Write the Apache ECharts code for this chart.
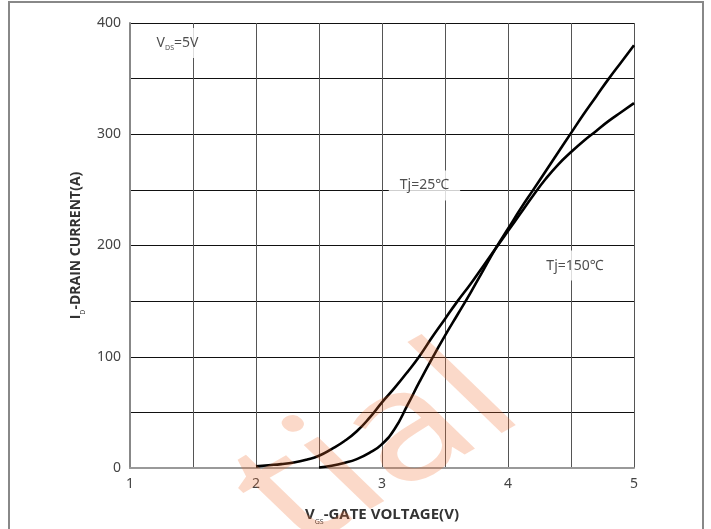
<!DOCTYPE html>
<html>
<head>
<meta charset="utf-8">
<script src="https://cdn.jsdelivr.net/npm/echarts@6/dist/echarts.min.js"></script>
<style>
html,body{margin:0;padding:0;background:#fff;}
#chart{width:711px;height:529px;}
</style>
</head>
<body>
<div id="chart"></div>
<script>
// Tj = 150°C curve (starts near 2 V)
const vgs150 = [2.0, 2.1, 2.2, 2.3, 2.4, 2.5, 2.6, 2.7, 2.8, 2.9, 3.0, 3.1, 3.2, 3.3, 3.4, 3.5, 3.6, 3.7, 3.8, 3.9, 4.0, 4.1, 4.2, 4.3, 4.4, 4.5, 4.6, 4.7, 4.8, 4.9, 5.0];
const id150  = [1.5, 2.5, 3.5, 5, 7.5, 11, 17, 24, 33, 45, 59, 72, 86, 101, 118, 134, 150, 165, 181, 197, 213, 229, 245, 260, 273, 284, 294, 303, 312, 320, 328];
// Tj = 25°C curve (starts near 2.5 V)
const vgs25 = [2.5, 2.6, 2.7, 2.8, 2.9, 3.0, 3.1, 3.2, 3.3, 3.4, 3.5, 3.6, 3.7, 3.8, 3.9, 4.0, 4.1, 4.2, 4.3, 4.4, 4.5, 4.6, 4.7, 4.8, 4.9, 5.0];
const id25  = [0.5, 2, 4.5, 8, 13.5, 21.5, 35, 56, 78, 99, 119, 138, 157, 177, 197, 215, 233, 250, 267, 284, 301, 318, 334, 350, 365, 380];
// annotation texts and their data positions
const noteText = ['VDS', 'Tj=25℃', 'Tj=150℃'];
const noteX = [1.377, 3.337, 4.532];
const noteY = [382, 254, 182];
const xTickLabels = [1, 2, 3, 4, 5];
const yTickLabels = [0, 100, 200, 300, 400];

const font = 'Noto Sans';
const titleFont = 'Open Sans';
const chart = echarts.init(document.getElementById('chart'));

function pairs(xs, ys){ return xs.map((x,i)=>[x, ys[i]]); }

const notes = noteText.map((t,i)=>({
  value:[noteX[i], noteY[i]],
  label: t === 'VDS'
    ? {formatter:'{n|V}{s|DS}{n|=5V}', padding:[7,4,7,4]}
    : {formatter:'{n|'+t+'}', padding:[7,11,7,11]}
}));

const titleRich = (fs)=>({
  b:{fontFamily:titleFont, fontWeight:'bold', fontSize:fs, color:'#333', lineHeight:20, verticalAlign:'middle'},
  s:{fontFamily:titleFont, fontSize:7, color:'#333', lineHeight:20, verticalAlign:'bottom', padding:[7,0,0,0]}
});

const deg = Math.PI/180;

chart.setOption({
  animation:false,
  backgroundColor:'#fff',
  grid:{left:130, right:77, top:23, bottom:61, outerBoundsMode:'none', containLabel:false},
  xAxis:{
    type:'value', min:1, max:5, interval:0.5,
    name:'{b|V}{s|GS}{b|-GATE VOLTAGE(V)}',
    nameLocation:'middle', nameGap:37,
    nameTextStyle:{rich:titleRich(15)},
    axisLine:{show:true, lineStyle:{color:'#999', width:2}},
    axisTick:{show:false},
    axisLabel:{fontFamily:font, fontSize:14, color:'#444', margin:9,
      formatter:v=> xTickLabels.indexOf(v) >= 0 ? String(v) : ''},
    splitLine:{show:true, lineStyle:{color:'#555', width:1}}
  },
  yAxis:{
    type:'value', min:0, max:400, interval:50,
    name:'{b|I}{s|D}{b|-DRAIN CURRENT(A)}',
    nameLocation:'middle', nameGap:36,
    nameTextStyle:{rich:titleRich(14)},
    axisLine:{show:true, lineStyle:{color:'#888', width:2}},
    axisTick:{show:false},
    axisLabel:{fontFamily:font, fontSize:14, color:'#444', margin:9,
      formatter:v=> yTickLabels.indexOf(v) >= 0 ? String(v) : ''},
    splitLine:{show:true, lineStyle:{color:'#111', width:1}}
  },
  series:[
    {type:'line', name:'Tj=150', data:pairs(vgs150, id150), showSymbol:false,
     smooth:0.5, lineStyle:{color:'#000', width:2.6}, z:3},
    {type:'line', name:'Tj=25', data:pairs(vgs25, id25), showSymbol:false,
     smooth:0.5, lineStyle:{color:'#000', width:2.6}, z:3},
    {type:'scatter', data:notes, symbolSize:0, z:4,
     label:{show:true, position:'inside', backgroundColor:'#fff',
       rich:{
         n:{fontFamily:font, fontSize:14, color:'#222', lineHeight:16},
         s:{fontFamily:font, fontSize:7, color:'#222', lineHeight:16, verticalAlign:'bottom', padding:[5,0,0,0]}
       }}}
  ],
  graphic:[
    {type:'rect', shape:{x:9, y:2, width:694, height:540}, style:{fill:null, stroke:'#888', lineWidth:2}, silent:true, z:0},
    {type:'group', x:556, y:443, scaleX:1.12, scaleY:0.837, silent:true, z:100, children:[
      {type:'text', rotation:37.7*deg, silent:true, z:100,
       style:{text:'tial', font:'181px "Noto Sans"', fill:'rgb(240,110,45)', opacity:0.26, align:'right', verticalAlign:'bottom'}}
    ]}
  ]
});
</script>
</body>
</html>
